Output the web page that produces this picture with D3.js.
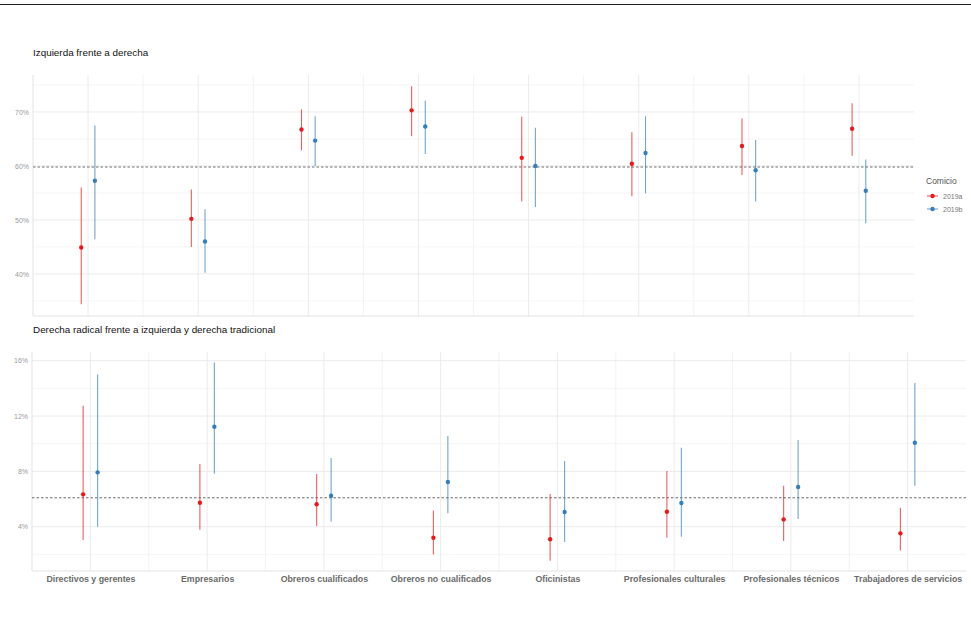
<!DOCTYPE html>
<html>
<head>
<meta charset="utf-8">
<script src="https://cdn.jsdelivr.net/npm/d3@7"></script>
<style>
  body { margin: 0; background: #fff; }
  svg { display: block; font-family: "Liberation Sans", Arial, sans-serif; }
</style>
</head>
<body>
<div id="chart"></div>
<script>
var categories = ['Directivos y gerentes', 'Empresarios', 'Obreros cualificados',
  'Obreros no cualificados', 'Oficinistas', 'Profesionales culturales',
  'Profesionales técnicos', 'Trabajadores de servicios']
var series = ['2019a', '2019b']

// panel 1: izquierda frente a derecha (%)
var izqA = [44.9, 50.2, 66.75, 70.3, 61.5, 60.4, 63.7, 66.9]
var izqALow = [34.4, 45.0, 62.9, 65.5, 53.4, 54.4, 58.3, 61.9]
var izqAHigh = [56.0, 55.65, 70.5, 74.75, 69.1, 66.25, 68.8, 71.6]
var izqB = [57.25, 46.0, 64.7, 67.3, 60.0, 62.4, 59.2, 55.4]
var izqBLow = [46.4, 40.2, 60.0, 62.2, 52.4, 54.9, 53.4, 49.4]
var izqBHigh = [67.5, 52.0, 69.2, 72.1, 67.1, 69.2, 64.8, 61.2]
var izqRef = 59.8
var izqTicks = [40, 50, 60, 70]

// panel 2: derecha radical frente a izquierda y derecha tradicional (%)
var radA = [6.34, 5.73, 5.62, 3.2, 3.09, 5.08, 4.53, 3.52]
var radALow = [3.04, 3.78, 4.05, 2.0, 1.54, 3.2, 2.96, 2.29]
var radAHigh = [12.75, 8.53, 7.81, 5.18, 6.36, 8.02, 6.96, 5.37]
var radB = [7.93, 11.23, 6.24, 7.23, 5.06, 5.71, 6.87, 10.07]
var radBLow = [4.0, 7.83, 4.36, 4.97, 2.89, 3.27, 4.55, 6.96]
var radBHigh = [15.0, 15.88, 8.97, 10.56, 8.75, 9.71, 10.27, 14.39]
var radRef = 6.1
var radTicks = [4, 8, 12, 16]

var colors = d3.scaleOrdinal().domain(series).range(['#e41a1c', '#377eb8'])

var width = 971
var height = 629

var svg = d3.select('#chart').append('svg')
  .attr('width', width)
  .attr('height', height)

// rule across the top
svg.append('line')
  .attr('x1', 0).attr('x2', width)
  .attr('y1', 4.5).attr('y2', 4.5)
  .attr('stroke', '#222').attr('stroke-width', 1.2)

function rows(a, aLo, aHi, b, bLo, bHi) {
  var out = []
  categories.forEach(function(c, i) {
    out.push({cat: c, s: '2019a', v: a[i], lo: aLo[i], hi: aHi[i]})
    out.push({cat: c, s: '2019b', v: b[i], lo: bLo[i], hi: bHi[i]})
  })
  return out
}

drawPanel({
  title: 'Izquierda frente a derecha',
  titleY: 56,
  left: 33, right: 914, top: 75, bottom: 316,
  domain: [32.2, 76.85],
  ticks: izqTicks,
  minor: [35, 45, 55, 65, 75],
  ref: izqRef,
  data: rows(izqA, izqALow, izqAHigh, izqB, izqBLow, izqBHigh),
  xLabels: false
})

drawPanel({
  title: 'Derecha radical frente a izquierda y derecha tradicional',
  titleY: 333,
  left: 32, right: 966, top: 352, bottom: 571,
  domain: [0.8, 16.63],
  ticks: radTicks,
  minor: [2, 6, 10, 14],
  ref: radRef,
  data: rows(radA, radALow, radAHigh, radB, radBLow, radBHigh),
  xLabels: true
})

drawLegend(926, 184)

function drawPanel(p) {
  var g = svg.append('g')

  var x = d3.scalePoint()
    .domain(categories)
    .range([p.left, p.right])
    .padding(0.5)
  var step = x.step()
  var dodge = step * 0.062

  var y = d3.scaleLinear()
    .domain(p.domain)
    .range([p.bottom, p.top])

  g.append('text')
    .attr('x', 33).attr('y', p.titleY)
    .attr('font-size', 9.9)
    .attr('fill', '#111')
    .text(p.title)

  // minor grid
  g.selectAll('.hminor').data(p.minor).enter().append('line')
    .attr('x1', p.left).attr('x2', p.right)
    .attr('y1', function(d) { return y(d) }).attr('y2', function(d) { return y(d) })
    .attr('stroke', '#f3f3f3').attr('stroke-width', 0.8)

  var mids = categories.slice(1).map(function(c) { return x(c) - step / 2 })
  g.selectAll('.vminor').data(mids).enter().append('line')
    .attr('x1', function(d) { return d }).attr('x2', function(d) { return d })
    .attr('y1', p.top).attr('y2', p.bottom)
    .attr('stroke', '#f0f0f0').attr('stroke-width', 0.8)

  // major grid
  g.selectAll('.hmajor').data(p.ticks).enter().append('line')
    .attr('x1', p.left).attr('x2', p.right)
    .attr('y1', function(d) { return y(d) }).attr('y2', function(d) { return y(d) })
    .attr('stroke', '#ebebeb').attr('stroke-width', 1)

  g.selectAll('.vmajor').data(categories).enter().append('line')
    .attr('x1', function(d) { return x(d) }).attr('x2', function(d) { return x(d) })
    .attr('y1', p.top).attr('y2', p.bottom)
    .attr('stroke', '#ebebeb').attr('stroke-width', 1)

  // axis lines, very light
  g.append('line')
    .attr('x1', p.left).attr('x2', p.left)
    .attr('y1', p.top).attr('y2', p.bottom)
    .attr('stroke', '#e3e3e3').attr('stroke-width', 1)
  g.append('line')
    .attr('x1', p.left).attr('x2', p.right)
    .attr('y1', p.bottom).attr('y2', p.bottom)
    .attr('stroke', '#e3e3e3').attr('stroke-width', 1)

  // y axis labels
  var yAxis = d3.axisLeft(y)
    .tickValues(p.ticks)
    .tickSize(0)
    .tickPadding(4)
    .tickFormat(function(d) { return d + '%' })
  var ya = g.append('g')
    .attr('transform', 'translate(' + p.left + ',0)')
    .call(yAxis)
  ya.select('.domain').remove()
  ya.selectAll('text')
    .attr('font-size', 7)
    .attr('font-family', '"Liberation Sans", Arial, sans-serif')
    .attr('fill', '#9a9a9a')

  if (p.xLabels) {
    var xAxis = d3.axisBottom(x).tickSize(0).tickPadding(5)
    var xa = g.append('g')
      .attr('transform', 'translate(0,' + p.bottom + ')')
      .call(xAxis)
    xa.select('.domain').remove()
    xa.selectAll('text')
      .attr('font-size', 8.8)
      .attr('font-weight', 'bold')
      .attr('font-family', '"Liberation Sans", Arial, sans-serif')
      .attr('fill', '#6b6b6b')
  }

  // reference line
  g.append('line')
    .attr('x1', p.left).attr('x2', p.right)
    .attr('y1', y(p.ref)).attr('y2', y(p.ref))
    .attr('stroke', '#6e6e6e')
    .attr('stroke-width', 1.1)
    .attr('stroke-dasharray', '2.5,2')

  function px(d) {
    return x(d.cat) + (d.s === '2019a' ? -dodge : dodge)
  }

  g.selectAll('.err').data(p.data).enter().append('line')
    .attr('x1', px).attr('x2', px)
    .attr('y1', function(d) { return y(d.lo) })
    .attr('y2', function(d) { return y(d.hi) })
    .attr('stroke', function(d) { return colors(d.s) })
    .attr('stroke-opacity', 0.7)
    .attr('stroke-width', 1.1)

  g.selectAll('.pt').data(p.data).enter().append('circle')
    .attr('cx', px)
    .attr('cy', function(d) { return y(d.v) })
    .attr('r', 2.2)
    .attr('fill', function(d) { return colors(d.s) })
}

function drawLegend(lx, ly) {
  var lg = svg.append('g').attr('transform', 'translate(' + lx + ',' + ly + ')')
  lg.append('text')
    .attr('x', 0).attr('y', 0)
    .attr('font-size', 8.5)
    .attr('fill', '#555')
    .text('Comicio')
  series.forEach(function(s, i) {
    var yy = 12 + i * 13
    lg.append('line')
      .attr('x1', 1).attr('x2', 12)
      .attr('y1', yy).attr('y2', yy)
      .attr('stroke', colors(s)).attr('stroke-opacity', 0.7)
      .attr('stroke-width', 1.1)
    lg.append('circle')
      .attr('cx', 6.5).attr('cy', yy).attr('r', 2.2)
      .attr('fill', colors(s))
    lg.append('text')
      .attr('x', 17).attr('y', yy + 2.5)
      .attr('font-size', 7)
      .attr('fill', '#777')
      .text(s)
  })
}
</script>
</body>
</html>
